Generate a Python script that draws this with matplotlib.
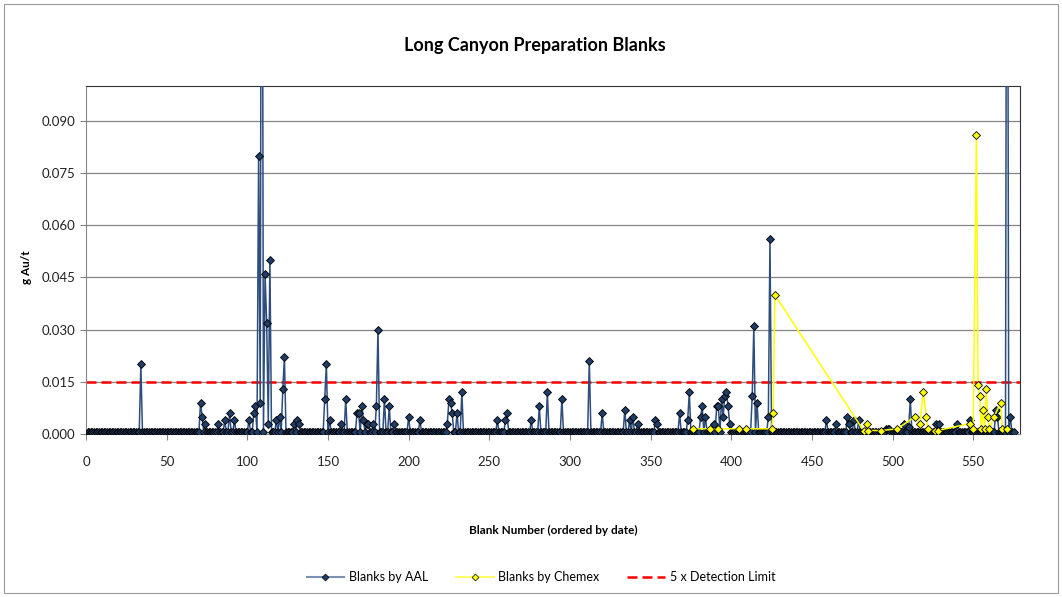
import matplotlib
matplotlib.use("Agg")
import matplotlib.pyplot as plt
import numpy as np
from matplotlib.lines import Line2D
from matplotlib.patches import Rectangle

plt.rcParams["font.family"] = ["Lato", "DejaVu Sans"]

# dados
n_aal = 575                 # blanks analisados pela AAL (1..575)
aal_base = 0.0005           # valor abaixo do limite de deteccao
aal_pico_n = [34, 71, 72, 74, 82, 86, 89, 92, 101, 104, 105, 107, 108, 109,
              111, 112, 113, 114, 118, 120, 122, 123, 129, 131, 132, 148, 149,
              151, 158, 161, 168, 169, 171, 172, 174, 175, 178, 180, 181, 185,
              188, 191, 200, 207, 224, 225, 226, 227, 230, 233, 255, 260, 261,
              276, 281, 286, 295, 312, 320, 334, 337, 339, 342, 353, 354, 368,
              373, 374, 381, 382, 384, 389, 391, 392, 394, 395, 396, 397, 398,
              399, 413, 414, 416, 423, 424, 459, 465, 472, 473, 476, 479, 496,
              497, 498, 507, 510, 511, 527, 529, 540, 548, 564, 565, 571, 573]
aal_pico_v = [0.020, 0.009, 0.005, 0.003, 0.003, 0.004, 0.006, 0.004, 0.004,
              0.006, 0.008, 0.080, 0.009, 0.250, 0.046, 0.032, 0.003, 0.050,
              0.004, 0.005, 0.013, 0.022, 0.003, 0.004, 0.003, 0.010, 0.020,
              0.004, 0.003, 0.010, 0.006, 0.006, 0.008, 0.004, 0.003, 0.003,
              0.003, 0.008, 0.030, 0.010, 0.008, 0.003, 0.005, 0.004, 0.003,
              0.010, 0.009, 0.006, 0.006, 0.012, 0.004, 0.004, 0.006, 0.004,
              0.008, 0.012, 0.010, 0.021, 0.006, 0.007, 0.004, 0.005, 0.003,
              0.004, 0.003, 0.006, 0.004, 0.012, 0.005, 0.008, 0.005, 0.003,
              0.008, 0.008, 0.010, 0.005, 0.011, 0.012, 0.008, 0.003, 0.011,
              0.031, 0.009, 0.005, 0.056, 0.004, 0.003, 0.005, 0.003, 0.004,
              0.004, 0.0015, 0.0015, 0.0015, 0.003, 0.002, 0.010, 0.003, 0.003,
              0.003, 0.004, 0.007, 0.005, 0.250, 0.005]

chemex_n = [376, 387, 392, 405, 409, 425, 426, 427, 482, 484, 485, 493, 503,
            514, 517, 519, 521, 522, 526, 528, 548, 550, 552, 553, 554, 555,
            556, 557, 558, 559, 560, 563, 567, 568, 571]
chemex_v = [0.0015, 0.0015, 0.0015, 0.0015, 0.0015, 0.0015, 0.006, 0.040,
            0.001, 0.003, 0.001, 0.001, 0.0015, 0.005, 0.003, 0.012, 0.005,
            0.0015, 0.001, 0.001, 0.003, 0.0015, 0.086, 0.014, 0.011, 0.0015,
            0.007, 0.0015, 0.013, 0.005, 0.0015, 0.005, 0.009, 0.0015, 0.0015]

limite_5x = 0.015

# serie AAL completa
aal_n = np.arange(1, n_aal + 1)
aal_v = np.full(n_aal, aal_base)
aal_v[np.array(aal_pico_n) - 1] = aal_pico_v

fig = plt.figure(figsize=(10.62, 5.97), dpi=100)
fig.patches.append(Rectangle((4 / 1062, 4 / 597), 1054 / 1062, 589 / 597,
                             transform=fig.transFigure, fill=False,
                             edgecolor="#9a9a9a", linewidth=0.8))
ax = fig.add_axes([86 / 1062, 1 - 434 / 597, (1020 - 86) / 1062, (434 - 86) / 597])

ax.axhline(limite_5x, color="#ff0000", lw=1.8, dashes=(4, 2), zorder=2)
ax.plot(aal_n, aal_v, color="#2c4d7e", lw=1.1, marker="D", ms=4.5,
        mfc="#1f3d66", mec="black", mew=0.6, zorder=3)
ax.plot(chemex_n, chemex_v, color="#ffff00", lw=1.1, marker="D", ms=4.5,
        mfc="#ffff00", mec="black", mew=0.6, zorder=4)

ax.set_xlim(0, 579)
ax.set_ylim(0, 0.1)
ax.set_xticks(np.arange(0, 551, 50))
ax.set_yticks(np.arange(0, 0.091, 0.015))
ax.set_yticklabels(["%.3f" % v for v in np.arange(0, 0.091, 0.015)])
ax.tick_params(labelsize=9.5, colors="#222222", length=4, color="#868686")
ax.tick_params(axis="x", pad=12)
ax.grid(axis="y", color="#868686", lw=0.9)
ax.set_axisbelow(True)
for s in ["left", "bottom"]:
    ax.spines[s].set_color("#868686")
for s in ["top", "right"]:
    ax.spines[s].set_color("#333333")

fig.text(535 / 1062, 1 - 45 / 597, "Long Canyon Preparation Blanks",
         ha="center", va="center", fontsize=13, fontweight="bold")
fig.text(27 / 1062, 1 - 267 / 597, "g Au/t", ha="center", va="center",
         rotation=90, fontsize=8.5, fontweight="bold")
fig.text(553 / 1062, 1 - 530 / 597, "Blank Number (ordered by date)",
         ha="center", va="center", fontsize=8.5, fontweight="bold")

handles = [
    Line2D([], [], color="#7b91b3", lw=1.5, marker="D", ms=3.5,
           mfc="#1f3d66", mec="black", mew=0.5),
    Line2D([], [], color="#ffff66", lw=1.5, marker="D", ms=3.5,
           mfc="#ffff00", mec="black", mew=0.5),
    Line2D([], [], color="#ff0000", lw=1.8, dashes=(4, 2)),
]
fig.legend(handles, ["Blanks by AAL", "Blanks by Chemex", "5 x Detection Limit"],
           loc="center", bbox_to_anchor=(541 / 1062, 1 - 577 / 597), ncol=3,
           frameon=False, fontsize=9, handlelength=3, handletextpad=0.4,
           columnspacing=2.2)

plt.savefig("out.png", dpi=100)
